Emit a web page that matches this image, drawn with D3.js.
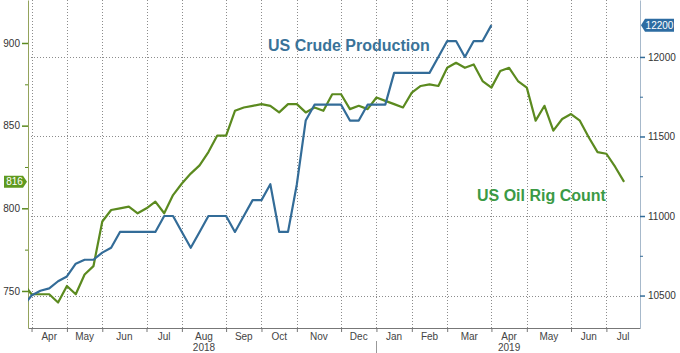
<!DOCTYPE html>
<html>
<head>
<meta charset="utf-8">
<script src="https://cdn.jsdelivr.net/npm/d3@7"></script>
<style>
body { margin: 0; background: #fff; }
svg { display: block; font-family: "Liberation Sans", Arial, sans-serif; }
</style>
</head>
<body>
<svg id="chart" width="680" height="353"></svg>
<script>
// weekly points (Fridays); the first one sits just left of the plot edge
var weeks = d3.timeFriday.range(new Date(2018, 2, 30), new Date(2019, 6, 20));

var rigCount = [755, 748, 748, 748, 743, 753, 748, 760, 765, 792, 799, 800, 801, 797, 800, 804,
    797, 808, 815, 821, 826, 834, 844, 844, 859, 861, 862, 863, 862, 858, 863, 863, 858, 861,
    859, 869, 869, 860, 862, 860, 867, 865, 863, 861, 870, 874, 875, 874, 885, 888, 885, 887,
    877, 873, 883, 885, 877, 873, 853, 862, 847, 854, 857, 853, 843, 834, 833, 825, 816];

var crudeProd = [10430, 10500, 10530, 10545, 10590, 10620, 10700, 10725, 10725, 10770, 10800,
    10900, 10900, 10900, 10900, 10900, 11000, 11000, 10900, 10800, 10900, 11000, 11000, 11000,
    10900, 11000, 11100, 11100, 11200, 10900, 10900, 11200, 11600, 11700, 11700, 11700, 11700,
    11600, 11600, 11700, 11700, 11700, 11900, 11900, 11900, 11900, 11900, 12000, 12100, 12100,
    12000, 12100, 12100, 12200];

var rigTicks = [750, 800, 850, 900];
var rigMinor = [775, 825, 875];
var prodTicks = [10500, 11000, 11500, 12000];
var prodMinor = [10750, 11250, 11750];
var monthNames = ["Jan", "Feb", "Mar", "Apr", "May", "Jun", "Jul", "Aug", "Sep", "Oct", "Nov", "Dec"];

var rigColor = "#5b8a1f", prodColor = "#336c98";
var left = 28, right = 640, bottom = 328;

var svg = d3.select("#chart");

var x = d3.scaleLinear().domain([0.6, 69.8]).range([left, right]);
var yRig = d3.scaleLinear().domain([727.6, 926]).range([bottom, 0]);
var yProd = d3.scaleLinear().domain([10296, 12358]).range([bottom, 0]);

// first week of every month
var monthStarts = [];
weeks.forEach(function (d, i) {
    if (i > 0 && d.getMonth() !== weeks[i - 1].getMonth()) monthStarts.push(i);
});

svg.append("clipPath").attr("id", "plot")
    .append("rect").attr("x", left).attr("y", 0).attr("width", right - left).attr("height", bottom);

// grid
var grid = svg.append("g")
    .attr("stroke", "#8c8c8c").attr("stroke-width", 1).attr("stroke-dasharray", "1,2");
grid.selectAll("line.h").data(prodTicks).enter().append("line").attr("class", "h")
    .attr("x1", left).attr("x2", right)
    .attr("y1", function (d) { return Math.round(yProd(d)) + 0.5; })
    .attr("y2", function (d) { return Math.round(yProd(d)) + 0.5; });
grid.selectAll("line.v").data(monthStarts).enter().append("line").attr("class", "v")
    .attr("y1", 0).attr("y2", bottom)
    .attr("x1", function (d) { return Math.round(x(d)) + 0.5; })
    .attr("x2", function (d) { return Math.round(x(d)) + 0.5; });

// bottom axis
var xAxis = svg.append("g").attr("transform", "translate(0," + bottom + ")")
    .call(d3.axisBottom(x).tickValues(monthStarts).tickFormat("").tickSizeInner(4).tickSizeOuter(0));
xAxis.selectAll("path, line").attr("stroke", "#777");

svg.append("g").selectAll("text").data(monthStarts).enter().append("text")
    .attr("x", function (d, i) {
        var next = i < monthStarts.length - 1 ? x(monthStarts[i + 1]) : right;
        return (x(d) + next) / 2;
    })
    .attr("y", 340)
    .attr("text-anchor", "middle")
    .attr("font-size", 10)
    .attr("fill", "#444")
    .text(function (d) { return monthNames[weeks[d].getMonth()]; });

// year labels and the divider at January
var years = [{ label: "2018", month: 7, year: 2018 }, { label: "2019", month: 3, year: 2019 }];
years.forEach(function (yr) {
    var i = monthStarts.findIndex(function (k) {
        return weeks[k].getMonth() === yr.month && weeks[k].getFullYear() === yr.year;
    });
    svg.append("text")
        .attr("x", (x(monthStarts[i]) + x(monthStarts[i + 1])) / 2)
        .attr("y", 351)
        .attr("text-anchor", "middle")
        .attr("font-size", 10)
        .attr("fill", "#444")
        .text(yr.label);
});
var jan = monthStarts.find(function (k) { return weeks[k].getMonth() === 0; });
svg.append("line")
    .attr("x1", Math.round(x(jan)) + 0.5).attr("x2", Math.round(x(jan)) + 0.5)
    .attr("y1", 341).attr("y2", 353)
    .attr("stroke", "#999");

// left axis (rig count)
var yl = svg.append("g").attr("transform", "translate(" + left + ",0)")
    .call(d3.axisLeft(yRig).tickValues(rigTicks).tickFormat(d3.format("d"))
        .tickSizeInner(6).tickSizeOuter(0).tickPadding(2));
yl.select(".domain").attr("stroke", "#94a35c");
yl.selectAll("line").attr("stroke", rigColor).attr("stroke-width", 1.5);
yl.selectAll("text").attr("font-size", 10).attr("fill", "#333").attr("font-family", null);
svg.append("g").attr("transform", "translate(" + left + ",0)")
    .call(d3.axisLeft(yRig).tickValues(rigMinor).tickFormat("").tickSizeInner(3).tickSizeOuter(0))
    .call(function (g) { g.select(".domain").remove(); })
    .selectAll("line").attr("stroke", rigColor);

// right axis (production), no thousands separator
var yr = svg.append("g").attr("transform", "translate(" + right + ",0)")
    .call(d3.axisRight(yProd).tickValues(prodTicks).tickFormat(d3.format("d"))
        .tickSizeInner(5).tickSizeOuter(0).tickPadding(3));
yr.select(".domain").attr("stroke", "#a7b9cb");
yr.selectAll("line").attr("stroke", prodColor).attr("stroke-width", 1.5);
yr.selectAll("text").attr("font-size", 10).attr("fill", "#333").attr("font-family", null);
svg.append("g").attr("transform", "translate(" + right + ",0)")
    .call(d3.axisRight(yProd).tickValues(prodMinor).tickFormat("").tickSizeInner(3).tickSizeOuter(0))
    .call(function (g) { g.select(".domain").remove(); })
    .selectAll("line").attr("stroke", prodColor);

// lines
var plot = svg.append("g").attr("clip-path", "url(#plot)");
plot.append("path").datum(rigCount)
    .attr("fill", "none").attr("stroke", rigColor).attr("stroke-width", 2.2)
    .attr("stroke-linejoin", "round")
    .attr("d", d3.line().x(function (d, i) { return x(i); }).y(function (d) { return yRig(d); }));
plot.append("path").datum(crudeProd)
    .attr("fill", "none").attr("stroke", prodColor).attr("stroke-width", 2.2)
    .attr("stroke-linejoin", "round")
    .attr("d", d3.line().x(function (d, i) { return x(i); }).y(function (d) { return yProd(d); }));

// last value tags
var lastRig = rigCount[rigCount.length - 1];
var ty = yRig(lastRig);
svg.append("path")
    .attr("d", "M4," + (ty - 6) + "H23L27," + ty + "L23," + (ty + 6) + "H4Z")
    .attr("fill", "#5f9a1f");
svg.append("text").attr("x", 14.5).attr("y", ty + 3.5)
    .attr("text-anchor", "middle").attr("font-size", 10).attr("fill", "#fff")
    .text(lastRig);

var lastProd = crudeProd[crudeProd.length - 1];
var py = yProd(lastProd);
svg.append("path")
    .attr("d", "M641," + py + "L645," + (py - 6.5) + "H674V" + (py + 6.5) + "H645Z")
    .attr("fill", "#2d6ca2");
svg.append("text").attr("x", 659.5).attr("y", py + 3.5)
    .attr("text-anchor", "middle").attr("font-size", 10).attr("fill", "#fff")
    .text(lastProd);

// series names
svg.append("text").attr("x", 268).attr("y", 51)
    .attr("font-size", 16).attr("font-weight", "bold").attr("fill", "#3a7399")
    .text("US Crude Production");
svg.append("text").attr("x", 477).attr("y", 200.5)
    .attr("font-size", 16).attr("font-weight", "bold").attr("fill", "#3b9a45")
    .text("US Oil Rig Count");
</script>
</body>
</html>
